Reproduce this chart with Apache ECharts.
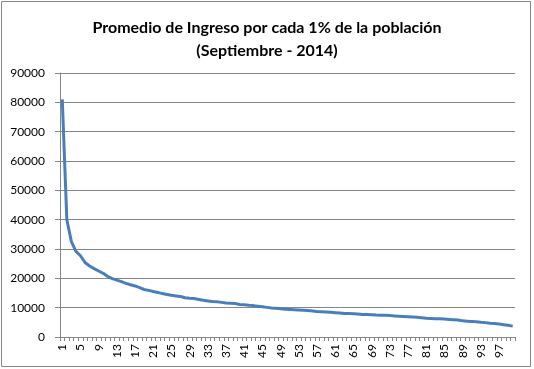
<!DOCTYPE html>
<html><head><meta charset="utf-8">
<script src="https://cdn.jsdelivr.net/npm/echarts@6/dist/echarts.min.js"></script>
<style>html,body{margin:0;padding:0;background:#fff}#c{width:534px;height:369px}</style>
</head><body><div id="c"></div>
<script>
const categories = Array.from({length:100},(_,i)=>String(i+1));
const ingreso = [
81000,40000,32500,29200,27700,25400,24200,23300,22500,21700,
20600,19900,19400,18900,18300,17800,17400,16800,16200,15900,
15500,15200,14800,14500,14200,14000,13800,13400,13200,13100,
12800,12500,12300,12100,12000,11800,11600,11500,11400,11100,
11000,10800,10700,10500,10300,10100,9900,9800,9600,9500,
9400,9300,9200,9100,9000,8900,8700,8600,8500,8400,
8300,8200,8000,8000,7900,7800,7700,7700,7600,7500,
7450,7400,7300,7200,7100,7000,6900,6800,6700,6600,
6400,6300,6200,6200,6100,6000,5900,5800,5500,5400,
5300,5200,5000,4900,4700,4600,4400,4200,4000,3700];
const yTicks = {min:0, max:90000, interval:10000};
const titleText = 'Promedio de Ingreso por cada 1% de la población\n(Septiembre - 2014)';

const chart = echarts.init(document.getElementById('c'));
chart.setOption({
  animation:false,
  backgroundColor:'#fff',
  graphic:[{type:'rect',shape:{x:1.5,y:1.5,width:529,height:365},style:{fill:'none',stroke:'#878787',lineWidth:1}}],
  title:{text:titleText,left:'center',top:11,textStyle:{fontFamily:'Lato',fontWeight:'bold',fontSize:16,color:'#000',lineHeight:23}},
  grid:{left:60,right:19,top:73,bottom:32},
  xAxis:{type:'category',data:categories,boundaryGap:true,
    axisLine:{lineStyle:{color:'#868686',width:1}},
    axisTick:{show:true,interval:0,length:4,lineStyle:{color:'#868686'}},
    axisLabel:{interval:3,rotate:90,fontFamily:'Lato',fontSize:12,color:'#000',margin:7}},
  yAxis:{type:'value',min:yTicks.min,max:yTicks.max,interval:yTicks.interval,
    axisLine:{show:true,lineStyle:{color:'#868686'}},
    axisTick:{show:true,length:5,lineStyle:{color:'#868686'}},
    splitLine:{lineStyle:{color:'#868686',width:1}},
    axisLabel:{fontFamily:'Lato',fontSize:12,color:'#000',margin:15,formatter:v=>String(v)}},
  series:[{type:'line',data:ingreso,symbol:'none',smooth:false,
    lineStyle:{color:'#4A7EBB',width:3}}]
});
</script></body></html>
